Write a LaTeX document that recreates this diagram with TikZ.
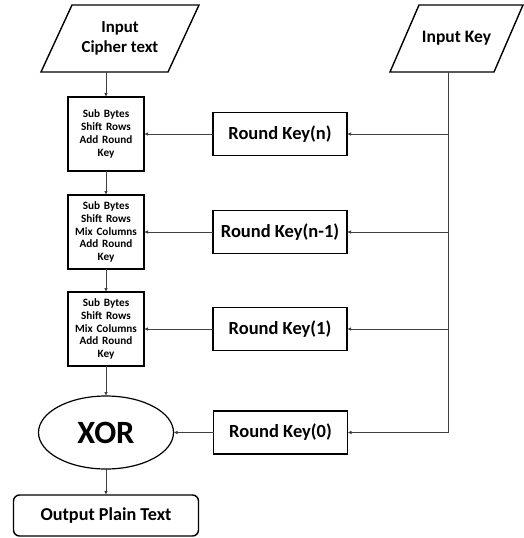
\documentclass[tikz,border=0pt]{standalone}
\usepackage{fontspec}
\setmainfont{Carlito}
\usetikzlibrary{positioning,arrows.meta,shapes.geometric}
\definecolor{wire}{HTML}{404040}
\tikzset{
  every node/.style={outer sep=0pt},
  iotext/.style={rectangle, minimum width=158pt, minimum height=67pt, inner sep=0pt, align=center},
  iopath/.style={draw=black, line width=1.4pt, line join=miter},
  rnd/.style={rectangle, draw=black, line width=1.4pt, text width=70pt, align=center,
              minimum width=76pt, minimum height=74pt, inner sep=3pt,
              font=\bfseries\fontsize{11.2}{12.9}\selectfont},
  rkey/.style={rectangle, draw=black, line width=1.4pt, minimum width=134pt,
               minimum height=43pt, font=\bfseries\fontsize{18.5}{22}\selectfont},
  xorop/.style={ellipse, draw=black, line width=1.2pt, minimum width=135pt,
                minimum height=73pt, font=\bfseries\fontsize{32.5}{36}\selectfont},
  outbox/.style={rectangle, rounded corners=6pt, draw=black, line width=1.4pt,
                 minimum width=185pt, minimum height=41pt,
                 font=\bfseries\fontsize{18.2}{22}\selectfont},
  flow/.style={-{Latex[length=4pt,width=3.5pt]}, line width=0.8pt, draw=wire}
}
\begin{document}
\begin{tikzpicture}[x=1pt, y=1pt, node distance=24pt and 69pt]
\useasboundingbox (0,0) rectangle (524,-538);
\node[iotext, font=\bfseries\fontsize{16.8}{20}\selectfont] (cipher) at (120,-38.5) {Input\\Cipher text};
\node[iotext, minimum width=133pt, font=\bfseries\fontsize{17.5}{20}\selectfont] (key) at (456.5,-38.5) {Input Key};
\draw[iopath] ([xshift=31pt]cipher.north west) -- (cipher.north east)
  -- ([xshift=-31pt]cipher.south east) -- (cipher.south west) -- cycle;
\draw[iopath] ([xshift=29pt]key.north west) -- (key.north east)
  -- ([xshift=-29pt]key.south east) -- (key.south west) -- cycle;
\node[rnd] (r1) at (106,-134) {Sub Bytes\\Shift Rows\\Add Round\\Key};
\node[rnd, below=of r1] (r2) {Sub Bytes\\Shift Rows\\Mix Columns\\Add Round\\Key};
\node[rnd, below=23pt of r2] (r3) {Sub Bytes\\Shift Rows\\Mix Columns\\Add Round\\Key};
\node[xorop, below=30pt of r3] (xor) {XOR};
\node[outbox, below=26pt of xor] (out) {Output Plain Text};
\node[rkey, right=of r1] (kn) {Round Key(n)};
\node[rkey, right=of r2] (kn1) {Round Key(n-1)};
\node[rkey, right=of r3] (k1) {Round Key(1)};
\node[rkey, right=40pt of xor] (k0) {Round Key(0)};
\coordinate (trunk) at ([xshift=-8.5pt]key.south);
% main path
\draw[flow] (cipher.south -| r1.north) -- (r1.north);
\draw[flow] (r1) -- (r2);
\draw[flow] (r2) -- (r3);
\draw[flow] (r3) -- (xor);
\draw[flow] (xor) -- (out);
% key schedule
\draw[flow] (trunk) |- (k0.east);
\draw[flow] (trunk |- kn.east) -- (kn.east);
\draw[flow] (trunk |- kn1.east) -- (kn1.east);
\draw[flow] (trunk |- k1.east) -- (k1.east);
\draw[flow] (kn) -- (r1);
\draw[flow] (kn1) -- (r2);
\draw[flow] (k1) -- (r3);
\draw[flow] (k0) -- (xor);
\end{tikzpicture}
\end{document}
